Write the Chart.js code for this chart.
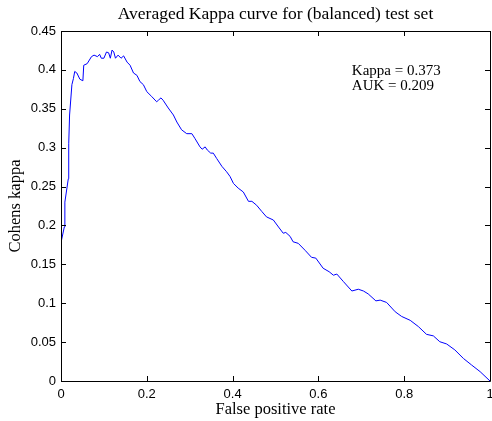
<!DOCTYPE html>
<html>
<head>
<meta charset="utf-8">
<script src="https://cdn.jsdelivr.net/npm/chart.js@4.4.0/dist/chart.umd.min.js"></script>
<style>
  html, body { margin: 0; padding: 0; background: #fff; }
  #wrap { width: 492px; height: 421px; position: relative; }
</style>
</head>
<body>
<div id="wrap"><canvas id="c" width="492" height="421"></canvas></div>
<script>
const fpr = [0, 0.0077, 0.009, 0.017, 0.018, 0.020, 0.0254, 0.029, 0.032, 0.037, 0.044, 0.051, 0.053, 0.061, 0.071, 0.077, 0.085, 0.090, 0.094, 0.100, 0.106, 0.111, 0.115, 0.119, 0.123, 0.127, 0.133, 0.140, 0.146, 0.154, 0.161, 0.169, 0.177, 0.184, 0.192, 0.200, 0.211, 0.223, 0.227, 0.233, 0.238, 0.250, 0.262, 0.270, 0.281, 0.293, 0.305, 0.312, 0.324, 0.329, 0.336, 0.341, 0.349, 0.355, 0.363, 0.375, 0.386, 0.394, 0.402, 0.413, 0.425, 0.437, 0.445, 0.456, 0.468, 0.479, 0.495, 0.507, 0.518, 0.524, 0.534, 0.541, 0.553, 0.569, 0.584, 0.594, 0.611, 0.625, 0.635, 0.643, 0.658, 0.678, 0.693, 0.705, 0.716, 0.734, 0.744, 0.759, 0.779, 0.794, 0.814, 0.833, 0.852, 0.868, 0.883, 0.899, 0.918, 0.938, 0.957, 0.977, 1.0];
const kappa = [0.178, 0.198, 0.230, 0.260, 0.305, 0.342, 0.381, 0.389, 0.398, 0.396, 0.388, 0.386, 0.406, 0.408, 0.417, 0.419, 0.417, 0.420, 0.415, 0.415, 0.423, 0.422, 0.415, 0.4255, 0.423, 0.415, 0.419, 0.415, 0.418, 0.410, 0.406, 0.396, 0.393, 0.385, 0.381, 0.372, 0.366, 0.359, 0.361, 0.364, 0.361, 0.351, 0.342, 0.333, 0.323, 0.318, 0.318, 0.312, 0.301, 0.298, 0.301, 0.297, 0.293, 0.293, 0.286, 0.276, 0.269, 0.263, 0.254, 0.248, 0.243, 0.231, 0.231, 0.226, 0.218, 0.211, 0.207, 0.198, 0.190, 0.191, 0.186, 0.179, 0.177, 0.168, 0.159, 0.158, 0.145, 0.1405, 0.136, 0.1375, 0.128, 0.1157, 0.118, 0.1157, 0.112, 0.103, 0.104, 0.101, 0.089, 0.083, 0.078, 0.070, 0.060, 0.058, 0.0505, 0.0476, 0.040, 0.029, 0.0206, 0.012, 0.0];
const xTicks = [0, 0.2, 0.4, 0.6, 0.8, 1];
const yTicks = [0, 0.05, 0.1, 0.15, 0.2, 0.25, 0.3, 0.35, 0.4, 0.45];
const titleText = 'Averaged Kappa curve for (balanced) test set';
const xTitle = 'False positive rate';
const yTitle = 'Cohens kappa';
const annotations = ['Kappa = 0.373', 'AUK = 0.209'];
const annotationPos = [0.678, 0.3985];

const points = fpr.map((x, i) => ({ x: x, y: kappa[i] }));
const serif = '"Liberation Serif", "DejaVu Serif", serif';
const sans = '"Liberation Sans", Arial, sans-serif';

const framePlugin = {
  id: 'frame',
  afterDraw(chart) {
    const ctx = chart.ctx;
    const a = chart.chartArea;
    const xs = chart.scales.x, ys = chart.scales.y;
    ctx.save();
    ctx.strokeStyle = '#000';
    ctx.lineWidth = 1;
    ctx.beginPath();
    ctx.rect(Math.round(a.left) + 0.5, Math.round(a.top) + 0.5, Math.round(a.right - a.left), Math.round(a.bottom - a.top));
    const tl = 5;
    xTicks.forEach(v => {
      const px = Math.round(xs.getPixelForValue(v)) + 0.5;
      ctx.moveTo(px, a.bottom); ctx.lineTo(px, a.bottom - tl);
      ctx.moveTo(px, a.top); ctx.lineTo(px, a.top + tl);
    });
    yTicks.forEach(v => {
      const py = Math.round(ys.getPixelForValue(v)) + 0.5;
      ctx.moveTo(a.left, py); ctx.lineTo(a.left + tl, py);
      ctx.moveTo(a.right, py); ctx.lineTo(a.right - tl, py);
    });
    ctx.stroke();
    // title
    ctx.fillStyle = '#000';
    ctx.font = '17.5px ' + serif;
    ctx.textAlign = 'center';
    ctx.textBaseline = 'middle';
    ctx.fillText(titleText, (a.left + a.right) / 2, 14);
    // annotations
    ctx.textAlign = 'left';
    ctx.font = '15px ' + serif;
    const ax = xs.getPixelForValue(annotationPos[0]);
    const ay = ys.getPixelForValue(annotationPos[1]);
    annotations.forEach((t, i) => ctx.fillText(t, ax, ay + i * 15.5));
    ctx.restore();
  }
};

new Chart(document.getElementById('c'), {
  type: 'scatter',
  data: {
    datasets: [{
      data: points,
      showLine: true,
      borderColor: '#0000ff',
      backgroundColor: '#0000ff',
      borderWidth: 1,
      pointRadius: 0,
      tension: 0,
      fill: false
    }]
  },
  options: {
    responsive: false,
    animation: false,
    devicePixelRatio: 1,
    layout: { padding: { top: 31, right: 2, left: 0, bottom: 0 } },
    plugins: { legend: { display: false }, tooltip: { enabled: false }, title: { display: false } },
    scales: {
      x: {
        type: 'linear', min: 0, max: 1,
        afterBuildTicks: s => { s.ticks = xTicks.map(v => ({ value: v })); },
        afterFit: s => { s.height = 40; s.paddingLeft = 0; s.paddingRight = 0; },
        grid: { display: false, drawTicks: false },
        border: { display: false },
        ticks: { color: '#000', font: { family: sans, size: 13 }, padding: 6, maxRotation: 0, autoSkip: false,
          callback: v => String(+(+v).toFixed(2)) },
        title: { display: true, text: xTitle, color: '#000', font: { family: serif, size: 16.5 }, padding: { top: 0, bottom: 1 } }
      },
      y: {
        type: 'linear', min: 0, max: 0.45,
        afterBuildTicks: s => { s.ticks = yTicks.map(v => ({ value: v })); },
        afterFit: s => { s.width = 61; s.paddingTop = 0; s.paddingBottom = 0; },
        grid: { display: false, drawTicks: false },
        border: { display: false },
        ticks: { color: '#000', font: { family: sans, size: 13 }, padding: 5, autoSkip: false,
          callback: v => String(+(+v).toFixed(2)) },
        title: { display: true, text: yTitle, color: '#000', font: { family: serif, size: 16.5 }, padding: { top: 6, bottom: 0 } }
      }
    }
  },
  plugins: [framePlugin]
});
</script>
</body>
</html>
